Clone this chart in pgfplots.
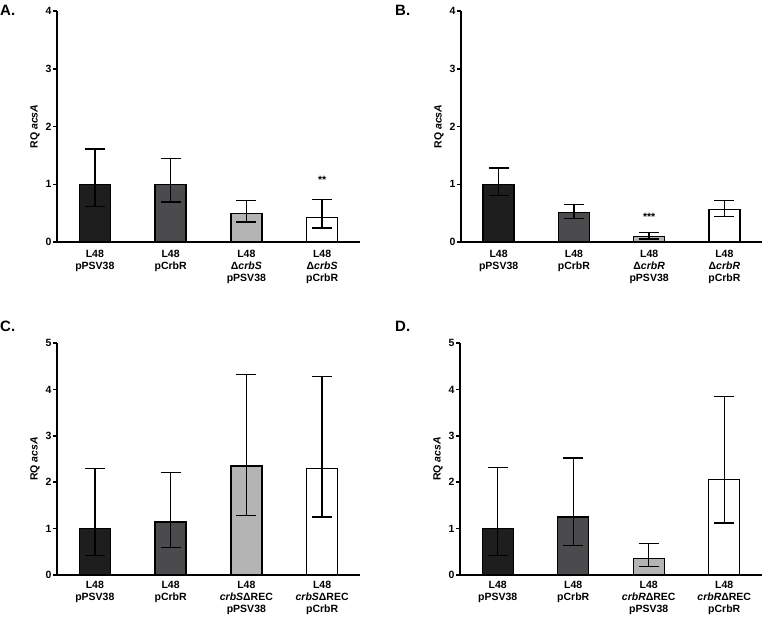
\documentclass[border=0pt]{standalone}
\usepackage{pgfplots}
\pgfplotsset{compat=1.18}
\usepackage{fontspec}
\setmainfont{Liberation Sans}
\definecolor{cA}{HTML}{1E1E1E}
\definecolor{cB}{HTML}{4B4A4C}
\definecolor{cC}{HTML}{B4B4B4}
\definecolor{cD}{HTML}{FFFFFF}
\pgfplotsset{
  panel/.style={
    scale only axis, width=303pt, height=231pt,
    axis lines*=left,
    axis line style={line width=1.8pt},
    xmin=-0.5, xmax=3.5, ymin=0,
    xtick={0,1,2,3}, xtick style={draw=none},
    ytick style={line width=1.5pt, black}, tick align=outside, major tick length=4pt,
    tick label style={font=\fontsize{10.5}{12}\selectfont\bfseries},
    xticklabel style={align=center, anchor=north, yshift=0pt},
    yticklabel style={xshift=2pt},
    ylabel={RQ \textit{acsA}},
    ylabel style={font=\fontsize{10.5}{12}\selectfont\bfseries, yshift=-1pt},
    /pgf/number format/assume math mode=true,
    clip=false,
  },
  mybar/.style={ybar, bar shift=0pt, bar width=31pt, draw=black, line width=1.3pt,
    error bars/y dir=both, error bars/y explicit,
    error bars/error mark=|,
    error bars/error bar style={line width=1.3pt, black},
    error bars/error mark options={line width=1.3pt, mark size=10pt, black}},
}
\begin{document}
\begin{tikzpicture}
\path[use as bounding box] (0pt,0pt) rectangle (765pt,-616pt);
\node[anchor=north west, inner sep=0pt, font=\fontsize{15}{15}\selectfont\bfseries] at (0pt,-5pt) {A.};
\node[anchor=north west, inner sep=0pt, font=\fontsize{15}{15}\selectfont\bfseries] at (395pt,-5pt) {B.};
\node[anchor=north west, inner sep=0pt, font=\fontsize{15}{15}\selectfont\bfseries] at (0pt,-321pt) {C.};
\node[anchor=north west, inner sep=0pt, font=\fontsize{15}{15}\selectfont\bfseries] at (395pt,-321pt) {D.};

% Panel A
\begin{axis}[panel, at={(57pt,-242pt)}, anchor=south west, ymax=4, ytick={0,1,2,3,4},
  xticklabel style={yshift=-1pt},
  xticklabels={{L48\\pPSV38},{L48\\pCrbR},{L48\\Δ\textit{crbS}\\pPSV38},{L48\\Δ\textit{crbS}\\pCrbR}}]
\addplot[mybar, fill=cA] coordinates {(0,1.00) += (0,0.61) -= (0,0.385)};
\addplot[mybar, fill=cB] coordinates {(1,1.00) += (0,0.44) -= (0,0.305)};
\addplot[mybar, fill=cC] coordinates {(2,0.49) += (0,0.23) -= (0,0.145)};
\addplot[mybar, fill=cD] coordinates {(3,0.425) += (0,0.315) -= (0,0.185)};
\node[font=\fontsize{10.5}{12}\selectfont\bfseries] at (axis cs:3,1.08) {**};
\end{axis}

% Panel B
\begin{axis}[panel, width=301pt, at={(461pt,-242pt)}, anchor=south west, ymax=4, ytick={0,1,2,3,4},
  xticklabel style={yshift=-1pt},
  xticklabels={{L48\\pPSV38},{L48\\pCrbR},{L48\\Δ\textit{crbR}\\pPSV38},{L48\\Δ\textit{crbR}\\pCrbR}}]
\addplot[mybar, fill=cA] coordinates {(0,1.00) += (0,0.28) -= (0,0.20)};
\addplot[mybar, fill=cB] coordinates {(1,0.51) += (0,0.14) -= (0,0.10)};
\addplot[mybar, fill=cC] coordinates {(2,0.10) += (0,0.065) -= (0,0.05)};
\addplot[mybar, fill=cD] coordinates {(3,0.56) += (0,0.16) -= (0,0.12)};
\node[font=\fontsize{10.5}{12}\selectfont\bfseries] at (axis cs:2,0.43) {***};
\end{axis}

% Panel C
\begin{axis}[panel, height=232pt, at={(57pt,-575pt)}, anchor=south west, ymax=5, ytick={0,1,2,3,4,5},
  xticklabel style={yshift=1.5pt},
  xticklabels={{L48\\pPSV38},{L48\\pCrbR},{L48\\\textit{crbS}ΔREC\\pPSV38},{L48\\\textit{crbS}ΔREC\\pCrbR}}]
\addplot[mybar, fill=cA] coordinates {(0,1.00) += (0,1.30) -= (0,0.58)};
\addplot[mybar, fill=cB] coordinates {(1,1.14) += (0,1.07) -= (0,0.55)};
\addplot[mybar, fill=cC] coordinates {(2,2.35) += (0,1.97) -= (0,1.07)};
\addplot[mybar, fill=cD] coordinates {(3,2.30) += (0,1.98) -= (0,1.05)};
\end{axis}

% Panel D
\begin{axis}[panel, width=302pt, height=232pt, at={(460pt,-575pt)}, anchor=south west, ymax=5, ytick={0,1,2,3,4,5},
  xticklabel style={yshift=1.5pt},
  xticklabels={{L48\\pPSV38},{L48\\pCrbR},{L48\\\textit{crbR}ΔREC\\pPSV38},{L48\\\textit{crbR}ΔREC\\pCrbR}}]
\addplot[mybar, fill=cA] coordinates {(0,1.00) += (0,1.32) -= (0,0.58)};
\addplot[mybar, fill=cB] coordinates {(1,1.25) += (0,1.27) -= (0,0.62)};
\addplot[mybar, fill=cC] coordinates {(2,0.36) += (0,0.32) -= (0,0.17)};
\addplot[mybar, fill=cD] coordinates {(3,2.06) += (0,1.79) -= (0,0.94)};
\end{axis}
\end{tikzpicture}
\end{document}
